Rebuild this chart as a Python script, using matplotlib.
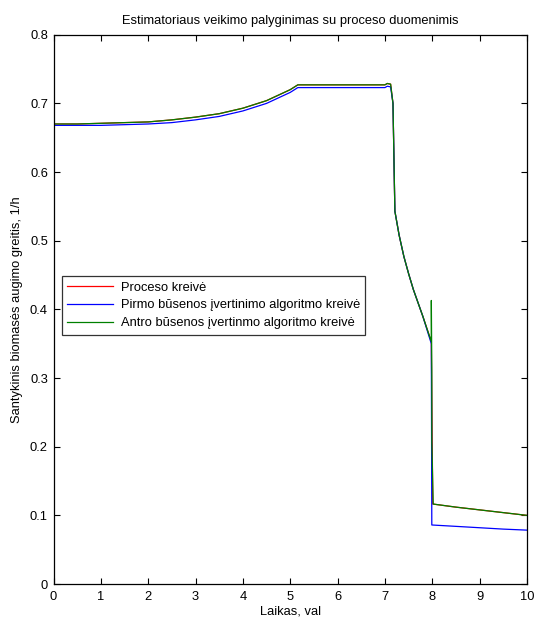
import matplotlib
matplotlib.use("Agg")
import matplotlib.pyplot as plt

plt.rcParams['font.family'] = ['Liberation Sans', 'DejaVu Sans']

# Process curve (time in hours, specific growth rate in 1/h)
t_proc = [0, 0.5, 1, 1.5, 2, 2.5, 3, 3.5, 4, 4.5, 4.75, 5.0, 5.16,
          7.0, 7.05, 7.12, 7.17, 7.21, 7.3, 7.4, 7.5, 7.6, 7.8, 7.98,
          8.01, 8.5, 9, 9.5, 10]
mu_proc = [0.670, 0.670, 0.671, 0.672, 0.673, 0.676, 0.680, 0.685, 0.693,
           0.704, 0.712, 0.720, 0.727,
           0.727, 0.729, 0.728, 0.700, 0.543, 0.508, 0.477, 0.452, 0.429,
           0.390, 0.353,
           0.1165, 0.112, 0.108, 0.104, 0.100]

# First state estimator
t_est1 = [0, 0.5, 1, 1.5, 2, 2.5, 3, 3.5, 4, 4.5, 4.75, 5.0, 5.16,
          7.0, 7.05, 7.12, 7.17, 7.21, 7.3, 7.4, 7.5, 7.6, 7.8, 7.98,
          7.99, 8.5, 9, 9.5, 10]
mu_est1 = [0.668, 0.668, 0.668, 0.669, 0.670, 0.672, 0.676, 0.681, 0.689,
           0.700, 0.708, 0.716, 0.723,
           0.723, 0.725, 0.724, 0.700, 0.543, 0.508, 0.477, 0.452, 0.429,
           0.390, 0.350,
           0.086, 0.084, 0.082, 0.080, 0.0785]

# Second state estimator
t_est2 = [0, 0.5, 1, 1.5, 2, 2.5, 3, 3.5, 4, 4.5, 4.75, 5.0, 5.16,
          7.0, 7.05, 7.12, 7.17, 7.21, 7.3, 7.4, 7.5, 7.6, 7.8, 7.98,
          7.98, 7.99, 7.99, 8.02, 8.5, 9, 9.5, 10]
mu_est2 = [0.670, 0.670, 0.671, 0.672, 0.673, 0.676, 0.680, 0.685, 0.693,
           0.704, 0.712, 0.720, 0.727,
           0.727, 0.729, 0.728, 0.700, 0.543, 0.508, 0.477, 0.452, 0.429,
           0.390, 0.353,
           0.413, 0.312, 0.207, 0.1165, 0.112, 0.108, 0.104, 0.100]

labels = ['Proceso kreivė',
          'Pirmo būsenos įvertinimo algoritmo kreivė',
          'Antro būsenos įvertinmo algoritmo kreivė']

FS = 9.3

fig = plt.figure(figsize=(5.35, 6.2), dpi=100)
ax = fig.add_axes([0.100, 0.058, 0.885, 0.886])

ax.plot(t_proc, mu_proc, color='#ff0000', lw=0.9, label=labels[0])
ax.plot(t_est1, mu_est1, color='#0000ff', lw=0.9, label=labels[1])
ax.plot(t_est2, mu_est2, color='#008000', lw=0.9, label=labels[2])

ax.set_xlim(0, 10)
ax.set_ylim(0, 0.8)
ax.set_xticks(range(0, 11))
ax.set_yticks([0, 0.1, 0.2, 0.3, 0.4, 0.5, 0.6, 0.7, 0.8])
ax.set_yticklabels(['0', '0.1', '0.2', '0.3', '0.4', '0.5', '0.6', '0.7', '0.8'])
ax.tick_params(direction='in', length=4, width=0.8, top=True, right=True,
               labelsize=FS)
ax.tick_params(axis='x', pad=5)
ax.tick_params(axis='y', pad=4)
for s in ax.spines.values():
    s.set_linewidth(0.9)

ax.set_title('Estimatoriaus veikimo palyginimas su proceso duomenimis',
             fontsize=FS, pad=8)
ax.set_xlabel('Laikas, val', fontsize=FS, labelpad=2)
ax.set_ylabel('Santykinis biomasės augimo greitis, 1/h', fontsize=FS, labelpad=5)

leg = ax.legend(loc='upper left', bbox_to_anchor=(0.017, 0.56),
                fontsize=FS, frameon=True, fancybox=False, shadow=False,
                handlelength=3.6, borderaxespad=0, labelspacing=0.45,
                borderpad=0.4, handletextpad=0.6)
leg.get_frame().set_edgecolor('black')
leg.get_frame().set_linewidth(0.9)

fig.savefig('out.png', dpi=100)
